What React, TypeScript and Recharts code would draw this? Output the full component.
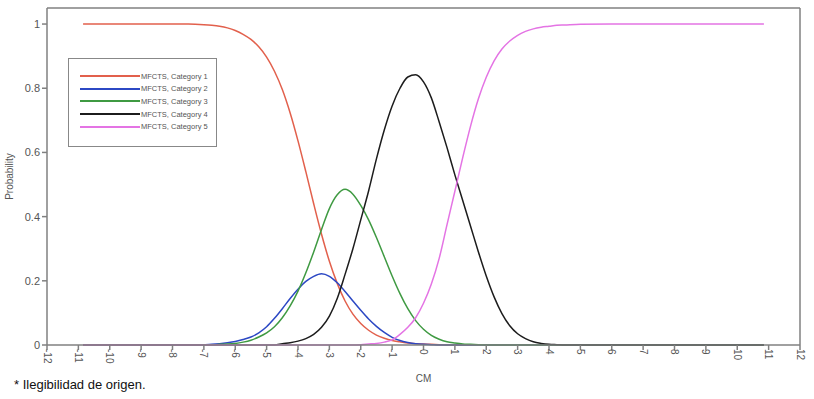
import React from "react";
import { LineChart, Line, XAxis, YAxis, ReferenceLine } from "recharts";

const xValues = [
  -10.85, -10, -9, -8, -7.5,
  -7, -6.75, -6.5, -6.25, -6, -5.75, -5.5, -5.25, -5, -4.75,
  -4.5, -4.25, -4, -3.75, -3.5, -3.25, -3, -2.75, -2.5, -2.25,
  -2, -1.75, -1.5, -1.25, -1, -0.75, -0.5, -0.25, 0, 0.25,
  0.5, 0.75, 1, 1.25, 1.5, 1.75, 2, 2.25, 2.5, 2.75,
  3, 3.25, 3.5, 3.75, 4, 4.25, 4.5,
  5, 6, 7, 8, 9, 10, 10.85,
];

const category1 = [
  1, 1, 1, 1, 1,
  0.998, 0.996, 0.993, 0.988, 0.98, 0.968, 0.952, 0.929, 0.897, 0.853,
  0.796, 0.723, 0.636, 0.54, 0.44, 0.345, 0.261, 0.192, 0.137, 0.096,
  0.067, 0.046, 0.031, 0.021, 0.014, 0.01, 0.006, 0.004, 0.003, 0.002,
  0.001, 0, 0, 0, 0, 0, 0, 0, 0, 0,
  0, 0, 0, 0, 0, 0, 0,
  0, 0, 0, 0, 0, 0, 0,
];

const category2 = [
  0, 0, 0, 0, 0,
  0.001, 0.002, 0.004, 0.007, 0.011, 0.017, 0.025, 0.038, 0.057, 0.083,
  0.113, 0.145, 0.174, 0.198, 0.214, 0.222, 0.214, 0.194, 0.167, 0.137,
  0.108, 0.081, 0.058, 0.039, 0.024, 0.014, 0.008, 0.004, 0.002, 0.001,
  0, 0, 0, 0, 0, 0, 0, 0, 0, 0,
  0, 0, 0, 0, 0, 0, 0,
  0, 0, 0, 0, 0, 0, 0,
];

const category3 = [
  0, 0, 0, 0, 0,
  0, 0, 0.002, 0.003, 0.005, 0.009, 0.015, 0.025, 0.038, 0.057,
  0.085, 0.122, 0.168, 0.225, 0.29, 0.36, 0.425, 0.468, 0.485, 0.47,
  0.435, 0.39, 0.335, 0.275, 0.215, 0.16, 0.113, 0.076, 0.049, 0.03,
  0.018, 0.01, 0.006, 0.003, 0.002, 0.001, 0, 0, 0, 0,
  0, 0, 0, 0, 0, 0, 0,
  0, 0, 0, 0, 0, 0, 0,
];

const category4 = [
  0, 0, 0, 0, 0,
  0, 0, 0, 0, 0, 0, 0, 0, 0, 0,
  0.004, 0.007, 0.012, 0.02, 0.033, 0.055, 0.09, 0.145, 0.22, 0.3,
  0.39, 0.48, 0.58, 0.67, 0.745, 0.8, 0.835, 0.842, 0.82, 0.77,
  0.695, 0.615, 0.53, 0.45, 0.37, 0.29, 0.215, 0.15, 0.098, 0.06,
  0.035, 0.02, 0.01, 0.005, 0.002, 0.001, 0,
  0, 0, 0, 0, 0, 0, 0,
];

const category5 = [
  0, 0, 0, 0, 0,
  0, 0, 0, 0, 0, 0, 0, 0, 0, 0,
  0, 0, 0, 0, 0, 0, 0, 0, 0, 0,
  0.001, 0.003, 0.005, 0.009, 0.016, 0.033, 0.055, 0.085, 0.13, 0.19,
  0.27, 0.375, 0.479, 0.584, 0.682, 0.767, 0.834, 0.885, 0.922, 0.947,
  0.965, 0.977, 0.985, 0.99, 0.993, 0.996, 0.997,
  0.999, 1, 1, 1, 1, 1, 1,
];

const seriesNames = [
  "MFCTS, Category 1",
  "MFCTS, Category 2",
  "MFCTS, Category 3",
  "MFCTS, Category 4",
  "MFCTS, Category 5",
];
const seriesColors = ["#e2604c", "#2c48c4", "#3f9a42", "#1c1c1c", "#e474e4"];

const xTicks = [-12, -11, -10, -9, -8, -7, -6, -5, -4, -3, -2, -1, 0, 1, 2, 3, 4, 5, 6, 7, 8, 9, 10, 11, 12];
const yTicks = [0, 0.2, 0.4, 0.6, 0.8, 1];

const seriesValues = [category1, category2, category3, category4, category5];
const data = xValues.map((x, i) => {
  const row: Record<string, number> = { x };
  seriesValues.forEach((s, k) => {
    row["c" + (k + 1)] = s[i];
  });
  return row;
});

const FONT = '"Liberation Sans", Arial, sans-serif';
const AXIS = "#808080";

function XTick(props: any) {
  const { x, y, payload } = props;
  return (
    <g transform={`translate(${x},${y - 3})`}>
      <text
        x={0}
        y={0}
        transform="rotate(90)"
        textAnchor="start"
        dominantBaseline="central"
        fontSize={10}
        fontFamily={FONT}
        fill="#555"
      >
        {payload.value}
      </text>
    </g>
  );
}

export default function App() {
  return (
    <div
      style={{
        position: "absolute",
        left: 0,
        top: 0,
        width: 814,
        height: 399,
        background: "#fff",
        fontFamily: FONT,
      }}
    >
      <LineChart
        width={814}
        height={399}
        data={data}
        margin={{ top: 8, right: 14, bottom: 14, left: 4 }}
      >
        <XAxis
          dataKey="x"
          type="number"
          domain={[-12, 12]}
          ticks={xTicks}
          interval={0}
          height={40}
          tickSize={5}
          tick={<XTick />}
          stroke={AXIS}
          strokeWidth={1.5}
          label={{
            value: "CM",
            position: "insideBottom",
            offset: 3,
            style: { fontSize: 10, fill: "#555", fontFamily: FONT },
          }}
        />
        <YAxis
          type="number"
          domain={[0, 1.05]}
          ticks={yTicks}
          width={43}
          tickSize={5}
          stroke={AXIS}
          strokeWidth={1.5}
          tick={{ fontSize: 11, fill: "#555", fontFamily: FONT }}
          label={{
            value: "Probability",
            angle: -90,
            position: "insideLeft",
            offset: 5,
            style: { fontSize: 10, fill: "#555", fontFamily: FONT, textAnchor: "middle" },
          }}
        />
        <ReferenceLine y={1.05} stroke={AXIS} strokeWidth={1.5} />
        <ReferenceLine x={12} stroke={AXIS} strokeWidth={1.5} />
        {seriesNames.map((name, k) => (
          <Line
            key={name}
            type="monotone"
            dataKey={"c" + (k + 1)}
            name={name}
            stroke={seriesColors[k]}
            strokeWidth={1.5}
            dot={false}
            isAnimationActive={false}
          />
        ))}
      </LineChart>

      <div
        style={{
          position: "absolute",
          left: 68,
          top: 58,
          width: 147,
          height: 87,
          border: "1.5px solid #888",
          background: "#fff",
        }}
      >
        {seriesNames.map((name, k) => (
          <div
            key={name}
            style={{
              position: "absolute",
              left: 11,
              top: 12 + k * 12.7,
              height: 10,
              display: "flex",
              alignItems: "center",
            }}
          >
            <div style={{ width: 60, height: 2, background: seriesColors[k] }} />
            <span style={{ fontSize: 7.5, color: "#555", marginLeft: 1, whiteSpace: "nowrap" }}>
              {name}
            </span>
          </div>
        ))}
      </div>

      <div
        style={{
          position: "absolute",
          left: 14,
          top: 377,
          fontSize: 13,
          color: "#111",
          whiteSpace: "nowrap",
        }}
      >
        * Ilegibilidad de origen.
      </div>
    </div>
  );
}
